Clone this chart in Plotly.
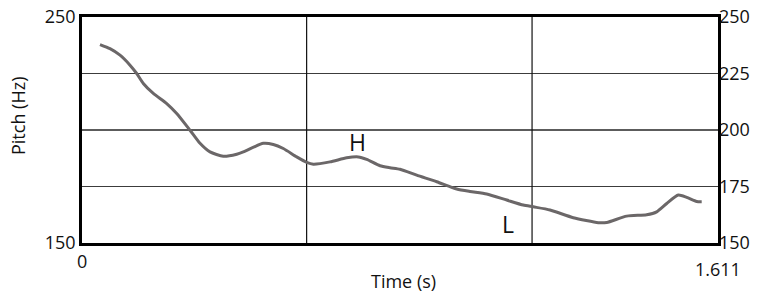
import plotly.graph_objects as go

# Pitch track (time in s, pitch in Hz)
time_s = [0.0456, 0.0709, 0.0963, 0.1216, 0.1386, 0.1553, 0.1806, 0.2146, 0.2399, 0.2736,
          0.2989, 0.3242, 0.3579, 0.3919, 0.4086, 0.4593, 0.4846, 0.5099, 0.5438, 0.5692,
          0.5859, 0.6282, 0.6705, 0.6999, 0.7212, 0.7549, 0.7802, 0.8055, 0.8478, 0.8985,
          0.9491, 0.9828, 1.0251, 1.0758, 1.1178, 1.1432, 1.1855, 1.2445, 1.3078, 1.3291,
          1.3797, 1.4304, 1.4557, 1.4811, 1.5104, 1.5317, 1.5570, 1.5697]
pitch_hz = [237.8, 236.0, 233.1, 228.7, 225.0, 220.6, 216.2, 211.7, 207.3, 199.9,
            194.1, 190.3, 188.4, 189.3, 190.3, 194.1, 193.6, 191.8, 188.1, 185.7,
            184.9, 185.9, 187.7, 188.1, 187.0, 184.2, 183.3, 182.6, 180.0, 177.1,
            173.9, 172.8, 171.7, 169.0, 166.8, 166.0, 164.6, 161.2, 159.0, 159.1,
            161.9, 162.5, 163.8, 167.5, 171.2, 170.2, 168.4, 168.3]

x_range = [0, 1.611]
x_tick_text = ["0", "1.611"]
y_range = [150, 250]
left_ticks = [150, 250]
right_ticks = [150, 175, 200, 225, 250]
grid_levels = [175, 200, 225]
grid_widths = [1.2, 2.2, 1.2]
grid_colors = ["#3c3c3c", "#5c5c5c", "#3c3c3c"]
boundaries = [0.569, 1.140]

tone_labels = ["H", "L"]
tone_t = [0.6966, 1.079]
tone_hz = [194.6, 158.4]

FONT = "Open Sans"
INK = "#111111"

fig = go.Figure()
fig.add_trace(go.Scatter(
    x=time_s, y=pitch_hz, mode="lines",
    line=dict(color="#6b6768", width=3, shape="spline", smoothing=0.6),
    showlegend=False, hoverinfo="skip",
))
# invisible trace anchoring the right-hand axis
fig.add_trace(go.Scatter(x=[x_range[0]], y=[y_range[0]], yaxis="y2",
                         mode="markers", marker=dict(opacity=0), showlegend=False,
                         hoverinfo="skip"))

shapes = []
for lvl, w, c in zip(grid_levels, grid_widths, grid_colors):
    shapes.append(dict(type="line", xref="paper", x0=0, x1=1, yref="y", y0=lvl, y1=lvl,
                       line=dict(color=c, width=w), layer="below"))
for b in boundaries:
    shapes.append(dict(type="line", xref="x", x0=b, x1=b, yref="paper", y0=0, y1=1,
                       line=dict(color=INK, width=1.2), layer="below"))

annotations = []
for txt, t, hz in zip(tone_labels, tone_t, tone_hz):
    annotations.append(dict(x=t, y=hz, xref="x", yref="y", text=txt, showarrow=False,
                            font=dict(family=FONT, size=23, color=INK)))
# x tick labels (the end one sits a little lower, as in the reference)
for val, txt, ypos in zip(x_range, x_tick_text, [-0.08, -0.115]):
    annotations.append(dict(x=val, y=ypos, xref="x", yref="paper", text=txt,
                            showarrow=False, xanchor="center", yanchor="middle",
                            font=dict(family=FONT, size=18, color=INK)))
annotations.append(dict(x=0.506, y=-0.168, xref="paper", yref="paper", yanchor="middle",
                        text="Time (s)", showarrow=False,
                        font=dict(family=FONT, size=18, color=INK)))
annotations.append(dict(x=-0.1006, y=0.562, xref="paper", yref="paper", text="Pitch (Hz)",
                        showarrow=False, textangle=-90, xanchor="center", yanchor="middle",
                        font=dict(family=FONT, size=18, color=INK)))

fig.update_layout(
    width=757, height=291,
    margin=dict(l=82, r=39, t=17, b=48, autoexpand=False),
    paper_bgcolor="white", plot_bgcolor="white",
    font=dict(family=FONT, size=18, color=INK),
    shapes=shapes, annotations=annotations,
    xaxis=dict(range=x_range, tickvals=x_range, showticklabels=False,
               showgrid=False, zeroline=False, showline=True, linecolor="#000000",
               linewidth=2.5, mirror=True, ticks="", automargin=False),
    yaxis=dict(range=y_range, tickvals=left_ticks, showgrid=False, zeroline=False,
               showline=True, linecolor="#000000", linewidth=2.5, mirror=True,
               ticks="", tickfont=dict(size=18), automargin=False),
    yaxis2=dict(range=y_range, tickvals=right_ticks, overlaying="y", side="right",
                showgrid=False, zeroline=False, showline=False, ticks="",
                tickfont=dict(size=18), automargin=False),
)

fig.write_html("out.html", config={"displayModeBar": False},
               post_script="document.body.style.margin='0';document.body.style.overflow='hidden';")
